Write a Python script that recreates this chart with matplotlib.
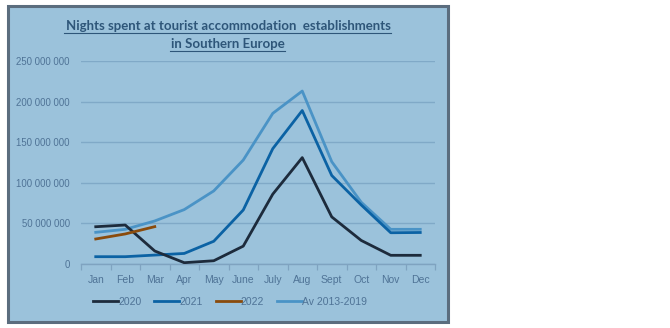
import matplotlib
matplotlib.use("Agg")
import matplotlib.pyplot as plt
from matplotlib.patches import Rectangle
from matplotlib.ticker import FuncFormatter, FixedLocator
import numpy as np

months = ["Jan", "Feb", "Mar", "Apr", "May", "June", "July", "Aug", "Sept", "Oct", "Nov", "Dec"]
nights_2020 = [45.9e6, 48.0e6, 16.0e6, 1.6e6, 4.0e6, 22.0e6, 86.0e6, 131.0e6, 58.0e6, 29.0e6, 10.7e6, 10.7e6]
nights_2021 = [9.0e6, 9.0e6, 11.0e6, 13.0e6, 28.0e6, 66.5e6, 142.0e6, 189.0e6, 109.0e6, 72.7e6, 38.5e6, 38.8e6]
nights_2022 = [30.8e6, 37.0e6, 46.0e6]
nights_avg = [39.0e6, 42.7e6, 53.0e6, 67.0e6, 90.0e6, 128.0e6, 185.5e6, 213.0e6, 126.0e6, 76.0e6, 42.7e6, 42.7e6]
series_labels = ["2020", "2021", "2022", "Av 2013-2019"]
y_ticks = [0, 50e6, 100e6, 150e6, 200e6, 250e6]

W, H = 670, 328
fig = plt.figure(figsize=(W / 100, H / 100), dpi=100)
fig.patch.set_facecolor("white")

panel_bg = "#9BC2DB"
# framed panel behind the chart
fig.add_artist(Rectangle((8 / W, 1 - 322 / H), (448 - 8) / W, (322 - 6) / H,
                         transform=fig.transFigure, facecolor=panel_bg,
                         edgecolor="#5B6D7E", linewidth=2.2, zorder=-5))

ax = fig.add_axes([81 / W, 1 - 264 / H, (435 - 81) / W, (264 - 61) / H])
ax.set_zorder(2)
ax.set_facecolor("none")

x = np.arange(len(months))
colors = ["#1D2B3C", "#0B62A4", "#8A4B0C", "#4A93C6"]
lw = 2.0
ax.plot(x, nights_avg, color=colors[3], lw=lw, label=series_labels[3], zorder=3)
ax.plot(x, nights_2021, color=colors[1], lw=lw, label=series_labels[1], zorder=4)
ax.plot(x, nights_2020, color=colors[0], lw=lw, label=series_labels[0], zorder=5)
ax.plot(np.arange(len(nights_2022)), nights_2022, color=colors[2], lw=lw, label=series_labels[2], zorder=6)

ax.set_xlim(-0.5, len(months) - 0.5)
ax.set_ylim(0, 250e6)
ax.yaxis.set_major_locator(FixedLocator(y_ticks))
ax.yaxis.set_major_formatter(FuncFormatter(lambda v, p: f"{int(v):,}".replace(",", " ")))
ax.grid(axis="y", color="#80A9C7", lw=1.0)
ax.set_axisbelow(True)

label_col = "#4F7396"
font = "Liberation Sans"
ax.set_xticks(x)
ax.set_xticklabels(months, fontsize=7.5, color=label_col, family=font)
ax.set_xticks(np.arange(-0.5, len(months)), minor=True)
ax.tick_params(axis="x", which="major", length=0, pad=8)
ax.tick_params(axis="x", which="minor", length=4, color="#7FA3C0", width=0.9)
ax.tick_params(axis="y", length=0, pad=8)
for t in ax.get_yticklabels():
    t.set_fontsize(6.9)
    t.set_color(label_col)
    t.set_family(font)

for s in ["top", "right", "left"]:
    ax.spines[s].set_visible(False)
ax.spines["bottom"].set_color("#7FA3C0")
ax.spines["bottom"].set_linewidth(1.0)

title_col = "#2E5679"
fig.text(228 / W, 1 - 26 / H, "Nights spent at tourist accommodation  establishments",
         ha="center", va="center", fontsize=9.5, fontweight="bold", color=title_col,
         family="Lato")
fig.text(228 / W, 1 - 44 / H, "in Southern Europe",
         ha="center", va="center", fontsize=9.5, fontweight="bold", color=title_col,
         family="Lato")
# underline beneath each title line
fig.add_artist(plt.Line2D([64 / W, 391 / W], [1 - 33 / H, 1 - 33 / H], color=title_col, lw=0.8))
fig.add_artist(plt.Line2D([170 / W, 285 / W], [1 - 51 / H, 1 - 51 / H], color=title_col, lw=0.8))

handles, labels = ax.get_legend_handles_labels()
order = [labels.index(l) for l in series_labels]
leg = ax.legend([handles[i] for i in order], [labels[i] for i in order],
                loc="center", bbox_to_anchor=(230 / W, 1 - 302 / H),
                bbox_transform=fig.transFigure, ncol=4, frameon=False,
                handlelength=2.4, handletextpad=0.0, columnspacing=1.25,
                prop={"family": font, "size": 7.5})
for t in leg.get_texts():
    t.set_color(label_col)

fig.savefig("out.png", dpi=100, facecolor="white")
